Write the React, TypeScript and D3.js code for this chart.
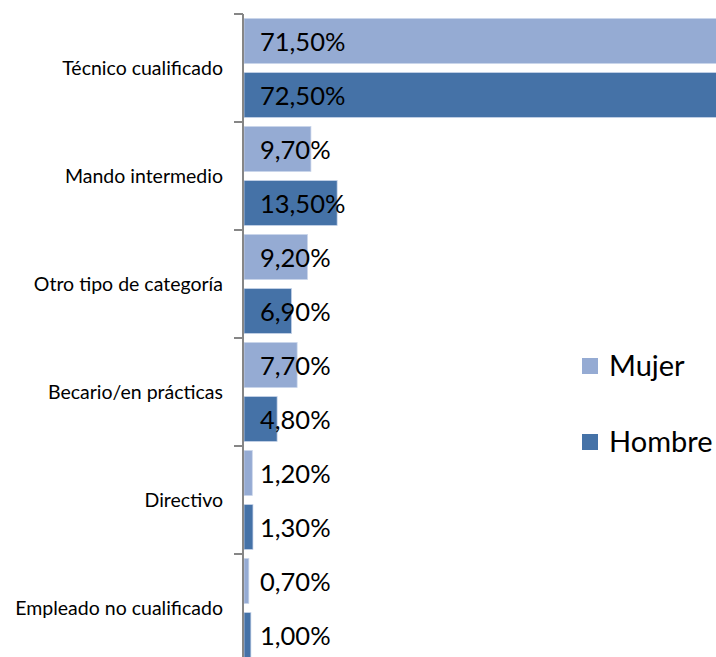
import React from "react";
import * as d3 from "d3";

const categories = [
  "Técnico cualificado",
  "Mando intermedio",
  "Otro tipo de categoría",
  "Becario/en prácticas",
  "Directivo",
  "Empleado no cualificado",
];
const series = ["Mujer", "Hombre"];
const mujer = [71.5, 9.7, 9.2, 7.7, 1.2, 0.7];
const hombre = [72.5, 13.5, 6.9, 4.8, 1.3, 1.0];
const colors = ["#95ABD3", "#4572A7"];

const W = 716;
const H = 657;
const FONT = "Lato, 'Open Sans', sans-serif";

export default function App() {
  const x = d3.scaleLinear().domain([0, 100]).range([244, 244 + 690]);
  const y = d3.scaleBand<string>().domain(categories).range([14, 14 + 6 * 108]).padding(0);
  const ys = d3
    .scaleBand<string>()
    .domain(series)
    .range([0, y.bandwidth()])
    .paddingInner(1 / 6)
    .paddingOuter(1 / 12);
  const values = [mujer, hombre];
  const fmt = (v: number) => v.toFixed(2).replace(".", ",") + "%";
  const boundaries = categories.map((c) => y(c) as number).concat([y.range()[1]]);

  return (
    <svg
      width={W}
      height={H}
      style={{ position: "absolute", left: 0, top: 0, background: "#fff" }}
      fontFamily={FONT}
    >
      {categories.map((c, i) => (
        <g key={c} transform={`translate(0,${y(c)})`}>
          {series.map((s, j) => {
            const v = values[j][i];
            const by = ys(s) as number;
            return (
              <g key={s}>
                <rect
                  x={x(0)}
                  y={by}
                  width={x(v) - x(0)}
                  height={ys.bandwidth()}
                  fill={colors[j]}
                  stroke="#C9D5EA"
                  strokeWidth={0.75}
                />
                <text
                  x={260}
                  y={by + ys.bandwidth() / 2 + 10}
                  fontSize={25.5}
                  fill="#000"
                >
                  {fmt(v)}
                </text>
              </g>
            );
          })}
          <text
            x={223}
            y={y.bandwidth() / 2 + 7}
            textAnchor="end"
            fontSize={19.5}
            fill="#000"
          >
            {c}
          </text>
        </g>
      ))}
      <line x1={243} x2={243} y1={boundaries[0]} y2={H} stroke="#868686" strokeWidth={2} />
      {boundaries.map((b, i) => (
        <line key={i} x1={234} x2={243} y1={b} y2={b} stroke="#868686" strokeWidth={2} />
      ))}
      {series.map((s, j) => (
        <g key={s} transform={`translate(582,${358 + j * 76})`}>
          <rect x={0} y={0} width={16} height={16} fill={colors[j]} />
          <text x={27} y={18} fontSize={29} fill="#000">
            {s}
          </text>
        </g>
      ))}
    </svg>
  );
}
